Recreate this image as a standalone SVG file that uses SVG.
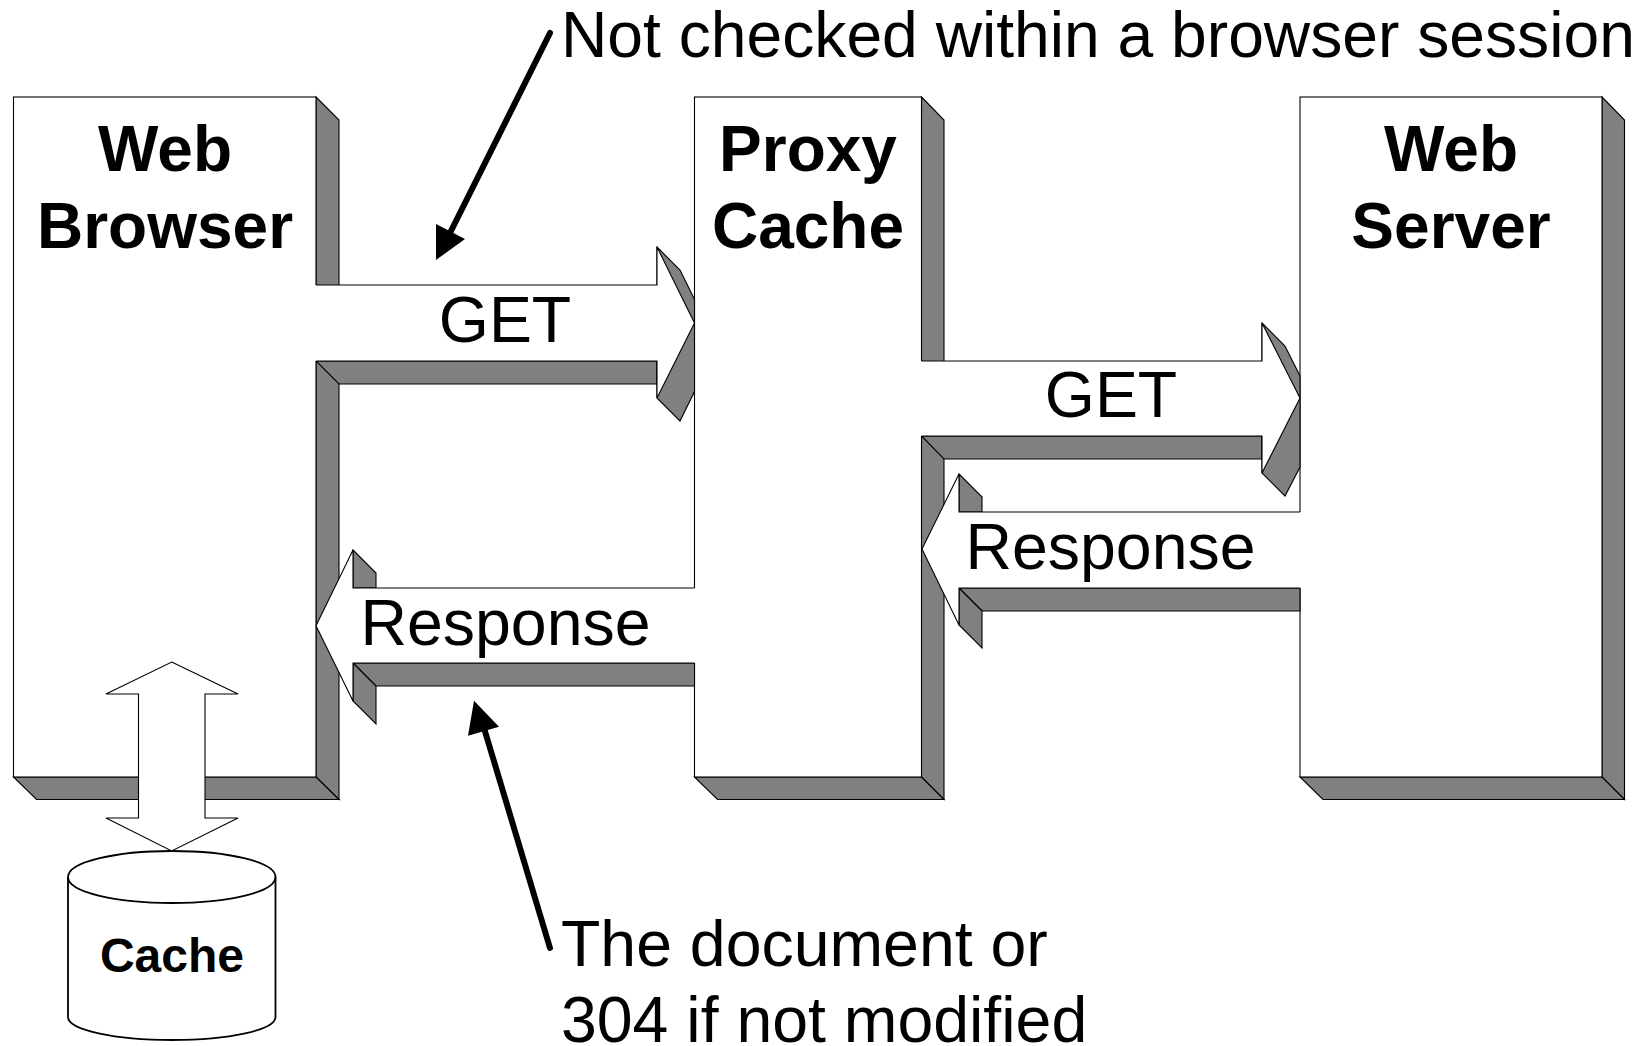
<svg xmlns="http://www.w3.org/2000/svg" width="1643" height="1046" viewBox="0 0 1643 1046">
<style>
text{font-family:"Liberation Sans",Arial,sans-serif;fill:#000}
.t{font-size:64.4px}
.b{font-size:64px;font-weight:bold;text-anchor:middle}
.s{fill:#808080;stroke:#000;stroke-width:1.1;stroke-linejoin:miter}
.w{fill:#fff;stroke:none}
.o{fill:none;stroke:#000;stroke-width:1.1}
.f{fill:#fff;stroke:#000;stroke-width:1.1}
.p{stroke:#000;stroke-width:6;stroke-linecap:round;fill:none}
.h{fill:#000;stroke:none}
</style>
<rect width="1643" height="1046" fill="#fff"/>
<g id="web-browser">
<polygon class="s" points="316,97 339,120 339,799.5 316,777"/>
<polygon class="s" points="13.5,777 316,777 339,799.5 36.5,799.5"/>
<rect class="f" x="13.5" y="97" width="302.5" height="680"/>
</g>
<g id="proxy-cache">
<polygon class="s" points="921.5,97 944,120 944,799.5 921.5,777"/>
<polygon class="s" points="694.5,777 921.5,777 944,799.5 717.5,799.5"/>
<rect class="f" x="694.5" y="97" width="227" height="680"/>
</g>
<g id="web-server">
<polygon class="s" points="1602,97 1624.5,120 1624.5,799.5 1602,777"/>
<polygon class="s" points="1300,777 1602,777 1624.5,799.5 1323,799.5"/>
<rect class="f" x="1300" y="97" width="302" height="680"/>
</g>
<g id="connectors">
<g id="get-1">
<polygon class="s" points="316,361 657,361 657,384 339,384"/>
<polygon class="s" points="657,247 680,270 694.5,299.4 694.5,391.6 680,421 657,398"/>
<polygon class="w" points="314,285 657,285 657,247 694.5,323 657,398 657,361 314,361"/>
<polyline class="o" points="316,285 657,285 657,247 694.5,323 657,398 657,361 316,361"/>
</g>
<g id="get-2">
<polygon class="s" points="921.5,436 1262,436 1262,459 944,459"/>
<polygon class="s" points="1262,323 1285,346 1300,376 1300,467 1285,496 1262,473"/>
<polygon class="w" points="919.5,361 1262,361 1262,323 1300,398 1262,473 1262,436 919.5,436"/>
<polyline class="o" points="921.5,361 1262,361 1262,323 1300,398 1262,473 1262,436 921.5,436"/>
</g>
<g id="response-1">
<polygon class="s" points="353,550 376,573 376,588 353,588"/>
<polygon class="s" points="353,663 694.5,663 694.5,686 376,686"/>
<polygon class="s" points="353,663 376,686 376,724 353,701"/>
<polygon class="w" points="696.5,588 353,588 353,550 316,625.7 353,701 353,663 696.5,663"/>
<polyline class="o" points="694.5,588 353,588 353,550 316,625.7 353,701 353,663 694.5,663"/>
</g>
<g id="response-2">
<polygon class="s" points="959,474 982,497 982,512 959,512"/>
<polygon class="s" points="959,588 1300,588 1300,611 982,611"/>
<polygon class="s" points="959,588 982,611 982,648 959,625"/>
<polygon class="w" points="1302,512 959,512 959,474 922,549 959,625 959,588 1302,588"/>
<polyline class="o" points="1300,512 959,512 959,474 922,549 959,625 959,588 1300,588"/>
</g>
<polygon id="cache-arrow" class="f" points="171.7,662 238,694 205,694 205,818 238,818 171.7,851 106,818 138.5,818 138.5,694 106,694"/>
<g id="pointer-top">
<line class="p" x1="550" y1="33" x2="450" y2="233"/>
<polygon class="h" points="436,224 465,239 436,260"/>
</g>
<g id="pointer-bottom">
<line class="p" x1="550" y1="948" x2="484" y2="728"/>
<polygon class="h" points="474,700.7 499,726.7 468,735.7"/>
</g>
</g>
<g id="cache">
<path d="M68,877 C68,862 115,851 172,851 C229,851 275.5,862 275.5,877 V1017 C275.5,1030 229,1040 172,1040 C115,1040 68,1030 68,1017 Z" fill="#fff" stroke="#000" stroke-width="1.8"/>
<path d="M68,877 C68,892 115,903 172,903 C229,903 275.5,892 275.5,877" fill="none" stroke="#000" stroke-width="1.8"/>
<text x="172" y="972" style="font-size:48px;font-weight:bold;text-anchor:middle">Cache</text>
</g>
<g id="labels">
<text class="b" x="165" y="171">Web</text>
<text class="b" x="165" y="248">Browser</text>
<text class="b" x="808" y="171">Proxy</text>
<text class="b" x="808" y="248">Cache</text>
<text class="b" x="1451" y="171">Web</text>
<text class="b" x="1451" y="248">Server</text>
<text class="t" x="505" y="342" text-anchor="middle">GET</text>
<text class="t" x="1111" y="417" text-anchor="middle">GET</text>
<text class="t" x="360.5" y="645">Response</text>
<text class="t" x="965.5" y="569">Response</text>
<text x="561" y="57" style="font-size:64.2px">Not checked within a browser session</text>
<text class="t" x="561" y="966">The document or</text>
<text class="t" x="561" y="1042">304 if not modified</text>
</g>
</svg>
